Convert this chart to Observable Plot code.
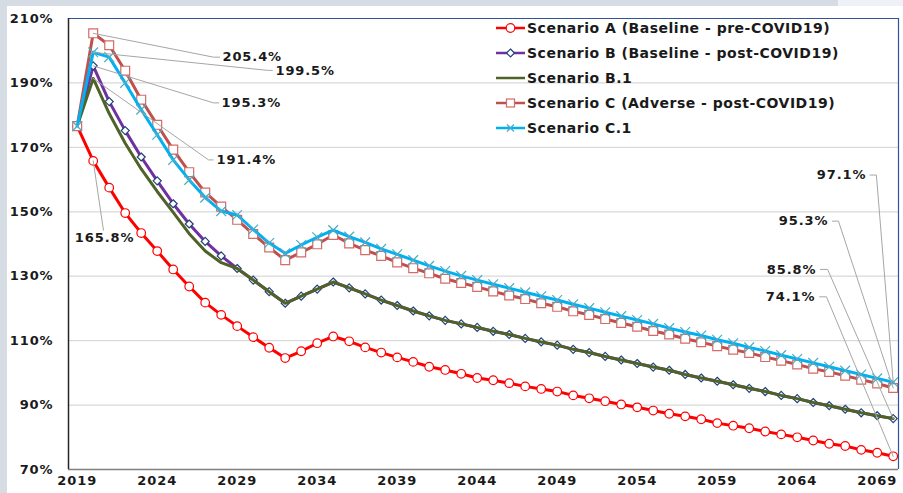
<!DOCTYPE html>
<html><head><meta charset="utf-8">
<script src="https://cdn.jsdelivr.net/npm/d3@7"></script>
<script src="https://cdn.jsdelivr.net/npm/@observablehq/plot@0.6"></script>
<style>
html,body{margin:0;padding:0;}
body{width:903px;height:493px;background:#d6dce4;position:relative;overflow:hidden;font-family:"DejaVu Sans",sans-serif;}
#band2{position:absolute;left:838px;top:0;width:65px;height:6px;background:#eef1f6;}
#panel{position:absolute;left:7px;top:6px;width:896px;height:487px;background:#fff;}
#chart{position:absolute;left:0;top:0;}
#chart svg text{font-weight:bold;letter-spacing:0.9px;}
#legend{position:absolute;left:496px;top:16px;}
.row{display:flex;align-items:center;height:24.9px;font-weight:bold;font-size:14px;letter-spacing:0.5px;color:#1a1a1a;white-space:nowrap;}
.row svg{margin-right:2px;}
</style>
</head><body>
<div id="band2"></div>
<div id="panel"></div>
<div id="chart"></div>
<div id="legend"></div>
<script>
const years = [2019,2020,2021,2022,2023,2024,2025,2026,2027,2028,2029,2030,2031,2032,2033,2034,2035,2036,2037,2038,2039,2040,2041,2042,2043,2044,2045,2046,2047,2048,2049,2050,2051,2052,2053,2054,2055,2056,2057,2058,2059,2060,2061,2062,2063,2064,2065,2066,2067,2068,2069,2070];

const scenarioA = [176.6,165.8,157.5,149.6,143.4,137.8,132.1,126.8,121.8,118.0,114.5,111.1,107.8,104.6,106.7,109.2,111.3,109.8,107.9,106.3,104.8,103.4,101.9,100.9,99.7,98.4,97.7,96.8,95.8,95.0,94.2,93.0,92.1,91.2,90.2,89.3,88.3,87.3,86.5,85.6,84.4,83.6,82.8,81.8,80.9,80.0,79.0,78.0,77.3,76.1,75.2,74.1];
const scenarioB = [176.6,195.3,184.2,175.2,167.0,159.6,152.5,146.2,140.8,136.3,132.4,128.8,125.2,121.6,123.8,126.0,128.2,126.4,124.5,122.6,120.9,119.2,117.7,116.3,115.2,114.1,112.9,111.9,110.7,109.6,108.6,107.3,106.3,105.1,104.0,102.9,101.8,100.8,99.5,98.4,97.4,96.3,95.2,94.2,93.0,92.0,90.8,89.8,88.7,87.6,86.7,85.8];
const scenarioB1 = [176.6,191.4,180.5,171.3,163.3,156.3,149.8,143.2,137.8,134.2,132.4,128.8,125.2,121.6,123.8,126.0,128.2,126.4,124.5,122.6,120.9,119.2,117.7,116.3,115.2,114.1,112.9,111.9,110.7,109.6,108.6,107.3,106.3,105.1,104.0,102.9,101.8,100.8,99.5,98.4,97.4,96.3,95.2,94.2,93.0,92.0,90.8,89.8,88.7,87.6,86.7,85.8];
const scenarioC = [176.6,205.4,201.7,193.8,184.8,177.0,169.3,162.3,156.0,151.6,147.5,143.1,138.9,135.0,137.4,139.9,142.8,140.2,138.1,136.3,134.3,132.5,130.9,129.2,127.9,126.7,125.3,124.0,122.9,121.6,120.5,119.1,118.0,116.7,115.5,114.3,113.0,111.9,110.6,109.5,108.3,107.2,106.2,104.9,103.8,102.6,101.3,100.3,99.1,97.9,96.7,95.3];
const scenarioC1 = [176.6,199.5,198.0,190.0,181.7,173.9,166.1,159.9,154.4,150.2,149.0,144.5,140.3,137.1,139.7,142.1,144.3,142.3,140.5,138.5,136.8,135.0,133.2,131.6,130.1,128.8,127.5,126.3,125.0,123.8,122.6,121.3,120.1,118.8,117.6,116.4,115.2,113.9,112.7,111.6,110.3,109.2,107.9,106.8,105.5,104.3,103.1,101.9,100.7,99.5,98.3,97.1];

const seriesNames = ["Scenario A (Baseline - pre-COVID19)","Scenario B (Baseline - post-COVID19)","Scenario B.1","Scenario C (Adverse - post-COVID19)","Scenario C.1"];

const xTicks = [2019,2024,2029,2034,2039,2044,2049,2054,2059,2064,2069];
const yTicks = [70,90,110,130,150,170,190,210];

// annotations (label text, data point, leader elbow, text position)
const annLabel = ["205.4%","199.5%","195.3%","191.4%","165.8%","97.1%","95.3%","85.8%","74.1%"];
const annYear = [2020,2020,2020,2020,2020,2070,2070,2070,2070];
const annValue = [205.4,199.5,195.3,191.4,165.8,97.1,95.3,85.8,74.1];
const annElbowYear = [2027.52,2030.89,2027.52,2027.21,2020.64,2068.95,2066.58,2065.9,2065.83];
const annElbowValue = [198.0,193.9,183.8,166.1,144.3,161.4,147.1,132.1,123.6];
const annStubYear = [2027.9,2031.2,2027.85,2027.5,null,2068.55,2066.2,2065.45,2065.4];
const annTextYear = [2028.08,2031.39,2028.02,2027.71,2020.71,2068.33,2065.95,2065.2,2065.14];
const annTextValue = [198.0,193.9,183.8,166.1,141.8,161.4,147.1,132.1,123.6];
const annAnchor = ["start","start","start","start","middle","end","end","end","end"];

const xDomain = [2018.456, 2070.331];
const yDomain = [70, 210];

const toRows = arr => years.map((year, i) => ({year, value: arr[i]}));
const rowsA = toRows(scenarioA), rowsB = toRows(scenarioB), rowsB1 = toRows(scenarioB1), rowsC = toRows(scenarioC), rowsC1 = toRows(scenarioC1);

const leaders = [];
annLabel.forEach((lab, i) => {
  leaders.push({id: i, x: annYear[i], y: annValue[i]});
  leaders.push({id: i, x: annElbowYear[i], y: annElbowValue[i]});
  if (annStubYear[i] != null) leaders.push({id: i, x: annStubYear[i], y: annElbowValue[i]});
});
const annTexts = annLabel.map((t, i) => ({t, x: annTextYear[i], y: annTextValue[i], a: annAnchor[i]}));
const textMark = anchor => Plot.text(annTexts.filter(d => d.a === anchor), {x: "x", y: "y", text: "t", textAnchor: anchor, fontSize: 13, fontWeight: "bold", fill: "#1a1a1a"});

const colA = "#ff0000", colB = "#7030a0", colBm = "#1f3f7a", colB1 = "#4f6228", colC = "#c0504d", colCm = "#d36b67", colC1 = "#00b0f0", colC1m = "#4bacc6";

const chart = Plot.plot({
  width: 903, height: 493,
  marginLeft: 68, marginRight: 5, marginTop: 18, marginBottom: 24,
  style: {background: "transparent", fontFamily: "DejaVu Sans, sans-serif", fontSize: "13px", color: "#1a1a1a", overflow: "visible"},
  x: {domain: xDomain},
  y: {domain: yDomain},
  marks: [
    Plot.gridY(yTicks.filter(v => v > yDomain[0] && v < yDomain[1]), {stroke: "#d9d9d9", strokeOpacity: 1, strokeWidth: 1.2}),
    Plot.line(rowsA, {x: "year", y: "value", stroke: colA, strokeWidth: 3}),
    Plot.dot(rowsA, {x: "year", y: "value", symbol: "circle", r: 4.3, fill: "white", stroke: colA, strokeWidth: 1.2}),
    Plot.line(rowsB, {x: "year", y: "value", stroke: colB, strokeWidth: 3}),
    Plot.dot(rowsB, {x: "year", y: "value", symbol: "diamond2", r: 3.6, fill: "white", stroke: colBm, strokeWidth: 1.2}),
    Plot.line(rowsB1, {x: "year", y: "value", stroke: colB1, strokeWidth: 3}),
    Plot.line(rowsC, {x: "year", y: "value", stroke: colC, strokeWidth: 3}),
    Plot.dot(rowsC, {x: "year", y: "value", symbol: "square", r: 5, fill: "white", stroke: colCm, strokeWidth: 1.2}),
    Plot.line(rowsC1, {x: "year", y: "value", stroke: colC1, strokeWidth: 3}),
    Plot.dot(rowsC1, {x: "year", y: "value", symbol: "times", r: 4.5, stroke: colC1m, strokeWidth: 1.2}),
    Plot.line(leaders, {x: "x", y: "y", z: "id", stroke: "#a6a6a6", strokeWidth: 1}),
    textMark("start"), textMark("middle"), textMark("end"),
    Plot.ruleY([yDomain[1]], {stroke: "#2f5597", strokeWidth: 1}),
    Plot.ruleX([xDomain[1]], {stroke: "#2f5597", strokeWidth: 1.2}),
    Plot.ruleY([yDomain[0]], {stroke: "#7f7f7f", strokeWidth: 1.5}),
    Plot.ruleX([xDomain[0]], {stroke: "#262626", strokeWidth: 1.5}),
    Plot.axisY(yTicks, {tickSize: 0, tickPadding: 15, tickFormat: d => d + "%", fontSize: 13, fontWeight: "bold"}),
    Plot.axisX(xTicks, {tickSize: 0, tickPadding: 6, tickFormat: d => String(d), fontSize: 13, fontWeight: "bold"})
  ]
});
document.getElementById("chart").appendChild(chart);

// Legend (inside plot area, top right)
const legendStyles = [
  {line: colA, marker: "circle", mstroke: colA},
  {line: colB, marker: "diamond", mstroke: colBm},
  {line: colB1, marker: null, mstroke: null},
  {line: colC, marker: "square", mstroke: colCm},
  {line: colC1, marker: "times", mstroke: colC1m}
];
const legend = d3.select("#legend");
seriesNames.forEach((name, i) => {
  const st = legendStyles[i];
  const row = legend.append("div").attr("class", "row");
  const s = row.append("svg").attr("width", 29).attr("height", 14);
  s.append("line").attr("x1", 0).attr("x2", 29).attr("y1", 7).attr("y2", 7).attr("stroke", st.line).attr("stroke-width", 2.5);
  if (st.marker === "circle") s.append("circle").attr("cx", 14.5).attr("cy", 7).attr("r", 4.3).attr("fill", "white").attr("stroke", st.mstroke).attr("stroke-width", 1.2);
  if (st.marker === "diamond") s.append("path").attr("d", "M14.5,3L18.5,7L14.5,11L10.5,7Z").attr("fill", "white").attr("stroke", st.mstroke).attr("stroke-width", 1.2);
  if (st.marker === "square") s.append("rect").attr("x", 10.5).attr("y", 3).attr("width", 8).attr("height", 8).attr("fill", "white").attr("stroke", st.mstroke).attr("stroke-width", 1.2);
  if (st.marker === "times") s.append("path").attr("d", "M11,3.5L18,10.5M18,3.5L11,10.5").attr("stroke", st.mstroke).attr("stroke-width", 1.3);
  row.append("span").text(name);
});
</script>
</body></html>
